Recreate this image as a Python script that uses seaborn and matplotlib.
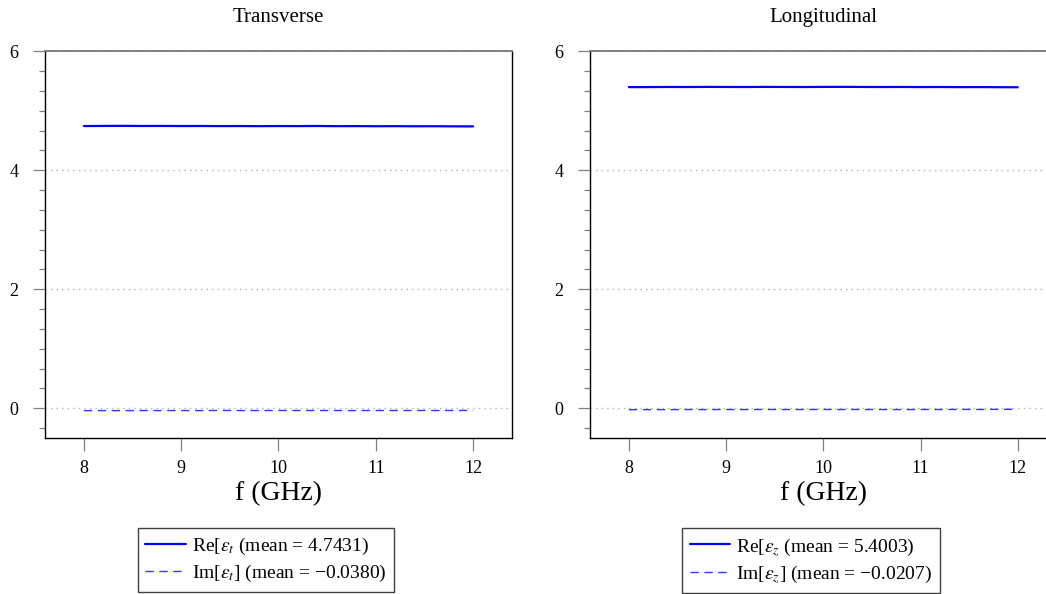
import numpy as np
import pandas as pd
import seaborn as sns
import matplotlib
matplotlib.use("Agg")
import matplotlib.pyplot as plt
from matplotlib.ticker import MultipleLocator, FixedLocator
from matplotlib.lines import Line2D

# ---- data ----
freq_ghz = [8.0, 8.2, 8.4, 8.6, 8.8, 9.0, 9.2, 9.4, 9.6, 9.8, 10.0,
            10.2, 10.4, 10.6, 10.8, 11.0, 11.2, 11.4, 11.6, 11.8, 12.0]
re_eps_t = [4.744, 4.746, 4.747, 4.745, 4.746, 4.744, 4.745, 4.743, 4.744, 4.742, 4.744,
            4.743, 4.745, 4.742, 4.743, 4.741, 4.742, 4.740, 4.741, 4.739, 4.738]
im_eps_t = [-0.040, -0.039, -0.040, -0.038, -0.039, -0.038, -0.039, -0.037, -0.038, -0.038, -0.037,
            -0.038, -0.037, -0.038, -0.039, -0.037, -0.038, -0.037, -0.038, -0.037, -0.036]
re_eps_z = [5.398, 5.399, 5.401, 5.400, 5.402, 5.401, 5.400, 5.402, 5.401, 5.400, 5.402,
            5.403, 5.401, 5.400, 5.401, 5.399, 5.400, 5.398, 5.399, 5.397, 5.396]
im_eps_z = [-0.023, -0.022, -0.023, -0.021, -0.022, -0.021, -0.022, -0.020, -0.021, -0.021, -0.020,
            -0.021, -0.020, -0.021, -0.022, -0.020, -0.021, -0.019, -0.020, -0.018, -0.017]

titles = ["Transverse", "Longitudinal"]
re_labels = [r"Re[$\varepsilon_t$ (mean = 4.7431)", r"Re[$\varepsilon_z$ (mean = 5.4003)"]
im_labels = [r"Im[$\varepsilon_t$] (mean = −0.0380)", r"Im[$\varepsilon_z$] (mean = −0.0207)"]
x_ticks = [8, 9, 10, 11, 12]
y_ticks = [0, 2, 4, 6]
x_label = "f (GHz)"

# ---- style ----
sns.set_style("white")
plt.rcParams["font.family"] = ["Liberation Serif", "DejaVu Serif"]
plt.rcParams["mathtext.fontset"] = "stix"
plt.rcParams["axes.unicode_minus"] = True
plt.rcParams["text.color"] = "black"
plt.rcParams["axes.labelcolor"] = "black"
plt.rcParams["axes.titlecolor"] = "black"

fig = plt.figure(figsize=(10.46, 5.94), dpi=100)
positions = [[0.0430, 0.2626, 0.4465, 0.6510], [0.5641, 0.2626, 0.4461, 0.6510]]
series = [(re_eps_t, im_eps_t), (re_eps_z, im_eps_z)]
legend_x = [0.2543, 0.7753]

for i in range(2):
    ax = fig.add_axes(positions[i])
    re_vals, im_vals = series[i]
    df = pd.DataFrame({"f": freq_ghz, "re": re_vals, "im": im_vals})
    sns.lineplot(data=df, x="f", y="re", ax=ax, color="#0000ff", linewidth=1.6)
    sns.lineplot(data=df, x="f", y="im", ax=ax, color="#3333ff", linewidth=1.0,
                 linestyle=(0, (6, 4)))
    ax.set_xlim(7.6, 12.4)
    ax.set_ylim(-0.5, 6.0)
    ax.xaxis.set_major_locator(FixedLocator(x_ticks))
    ax.yaxis.set_major_locator(FixedLocator(y_ticks))
    ax.yaxis.set_minor_locator(MultipleLocator(1 / 3))
    ax.grid(axis="y", which="major", color="#b0b0b0", linestyle=(0, (1, 3)), linewidth=1.0)
    ax.set_axisbelow(True)
    ax.tick_params(axis="both", which="major", direction="out", length=9, width=0.9,
                   color="#808080", labelsize=13, labelcolor="black")
    ax.tick_params(axis="x", which="major", pad=7)
    ax.tick_params(axis="y", which="major", pad=10)
    ax.tick_params(axis="y", which="minor", direction="out", length=4.5, width=0.9,
                   color="#808080", left=True)
    ax.tick_params(axis="x", which="minor", bottom=False)
    ax.tick_params(left=True, bottom=True)
    for side in ["left", "bottom", "right"]:
        ax.spines[side].set_color("black")
        ax.spines[side].set_linewidth(1.0)
    ax.spines["top"].set_color("#808080")
    ax.spines["top"].set_linestyle((0, (2, 1)))
    ax.spines["top"].set_linewidth(1.4)
    ax.set_xlabel(x_label, fontsize=20, labelpad=3, color="black")
    ax.set_ylabel("")
    ax.set_title(titles[i], fontsize=15, pad=21, color="black")

    handles = [Line2D([], [], color="#0000ff", linewidth=1.6),
               Line2D([], [], color="#3333ff", linewidth=1.0, linestyle=(0, (6, 4)))]
    fig.legend(handles, [re_labels[i], im_labels[i]], loc="upper center",
               bbox_to_anchor=(legend_x[i], 0.111), borderaxespad=0, fontsize=14,
               frameon=True, fancybox=False, edgecolor="#404040", handlelength=2.1,
               handletextpad=0.3, borderpad=0.4, labelspacing=0.3, framealpha=1,
               labelcolor="black")

fig.savefig("out.png", dpi=100)
